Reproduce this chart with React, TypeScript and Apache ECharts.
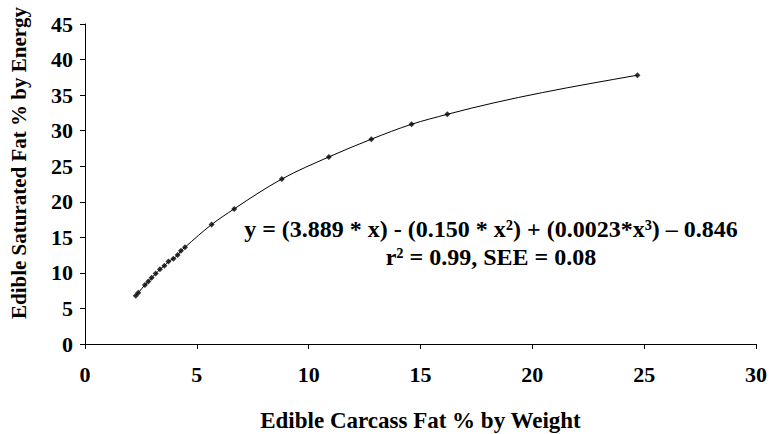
import React, { useEffect, useRef } from "react";
import * as echarts from "echarts";

const carcassFat = [2.27, 2.38, 2.68, 2.83, 2.98, 3.16, 3.35, 3.55, 3.73, 3.95, 4.14, 4.29, 4.47, 5.66, 6.67, 8.8, 10.9, 12.8, 14.6, 16.2, 24.7];
const satFat = [6.8, 7.2, 8.3, 8.8, 9.3, 9.9, 10.5, 11.0, 11.6, 12.0, 12.5, 13.1, 13.6, 16.8, 19.0, 23.2, 26.3, 28.8, 30.9, 32.3, 37.8];
const xTicks = [0, 5, 10, 15, 20, 25, 30];
const yTicks = [0, 5, 10, 15, 20, 25, 30, 35, 40, 45];
const equationLine = "y = (3.889 * x) - (0.150 * x²) + (0.0023*x³) – 0.846";
const statsLine = "r² = 0.99, SEE = 0.08";
const xName = "Edible Carcass Fat % by Weight";
const yName = "Edible Saturated Fat % by Energy";

const FONT = "'Liberation Serif', 'Times New Roman', serif";

// tangents (three-point, non-uniform) for a smooth curve through the data points
function tangents(xs: number[], ys: number[]): number[] {
  const n = xs.length;
  const s: number[] = [];
  for (let i = 0; i < n - 1; i++) s.push((ys[i + 1] - ys[i]) / (xs[i + 1] - xs[i]));
  const m: number[] = new Array(n).fill(0);
  for (let i = 1; i < n - 1; i++) {
    const h0 = xs[i] - xs[i - 1];
    const h1 = xs[i + 1] - xs[i];
    m[i] = (h1 * s[i - 1] + h0 * s[i]) / (h0 + h1);
  }
  m[0] = (3 * s[0] - m[1]) / 2;
  m[n - 1] = (3 * s[n - 2] - m[n - 2]) / 2;
  return m;
}

export default function App() {
  const ref = useRef<HTMLDivElement>(null);
  useEffect(() => {
    if (!ref.current) return;
    const chart = echarts.init(ref.current, undefined, { renderer: "svg" });
    const pts = carcassFat.map((x, i) => [x, satFat[i]]);
    const slopes = tangents(carcassFat, satFat);
    chart.setOption({
      animation: false,
      backgroundColor: "#ffffff",
      grid: { left: 85, right: 15, top: 24, bottom: 90, containLabel: false, outerBoundsMode: "none" },
      xAxis: {
        type: "value",
        min: xTicks[0],
        max: xTicks[xTicks.length - 1],
        interval: 5,
        name: xName,
        nameLocation: "middle",
        nameGap: 65,
        nameTextStyle: { fontFamily: FONT, fontWeight: "bold", fontSize: 23, color: "#000" },
        axisLine: { show: true, lineStyle: { color: "#000", width: 1 } },
        axisTick: { show: true, inside: false, length: 5, lineStyle: { color: "#000" } },
        axisLabel: { fontFamily: FONT, fontWeight: "bold", fontSize: 22, color: "#000", margin: 19 },
        splitLine: { show: false },
      },
      yAxis: {
        type: "value",
        min: yTicks[0],
        max: yTicks[yTicks.length - 1],
        interval: 5,
        axisLine: { show: true, lineStyle: { color: "#000", width: 1 } },
        axisTick: { show: true, inside: false, length: 5, lineStyle: { color: "#000" } },
        axisLabel: { fontFamily: FONT, fontWeight: "bold", fontSize: 22, color: "#000", margin: 12 },
        splitLine: { show: false },
      },
      graphic: [
        {
          type: "text",
          x: 19,
          y: 163,
          rotation: Math.PI / 2,
          style: {
            text: yName,
            fontFamily: FONT,
            fontWeight: "bold",
            fontSize: 21,
            fill: "#000",
            textAlign: "center",
            textVerticalAlign: "middle",
          },
        },
        {
          type: "text",
          x: 491,
          y: 229,
          style: {
            text: equationLine,
            fontFamily: FONT,
            fontWeight: "bold",
            fontSize: 24,
            fill: "#000",
            textAlign: "center",
            textVerticalAlign: "middle",
          },
        },
        {
          type: "text",
          x: 491,
          y: 257,
          style: {
            text: statsLine,
            fontFamily: FONT,
            fontWeight: "bold",
            fontSize: 24,
            fill: "#000",
            textAlign: "center",
            textVerticalAlign: "middle",
          },
        },
      ],
      series: [
        {
          type: "custom",
          data: pts,
          encode: { x: 0, y: 1 },
          z: 2,
          silent: true,
          renderItem: (params: any, api: any) => {
            if (params.dataIndex !== 0) return null;
            const n = carcassFat.length;
            const p0 = api.coord([carcassFat[0], satFat[0]]);
            let d = `M${p0[0]} ${p0[1]}`;
            for (let i = 0; i < n - 1; i++) {
              const h = carcassFat[i + 1] - carcassFat[i];
              const c1 = api.coord([carcassFat[i] + h / 3, satFat[i] + (slopes[i] * h) / 3]);
              const c2 = api.coord([carcassFat[i + 1] - h / 3, satFat[i + 1] - (slopes[i + 1] * h) / 3]);
              const p = api.coord([carcassFat[i + 1], satFat[i + 1]]);
              d += ` C${c1[0]} ${c1[1]} ${c2[0]} ${c2[1]} ${p[0]} ${p[1]}`;
            }
            return {
              type: "path",
              shape: { pathData: d },
              style: { fill: "none", stroke: "#000", lineWidth: 1 },
            };
          },
        },
        {
          type: "scatter",
          data: pts,
          symbol: "diamond",
          symbolSize: 6,
          itemStyle: { color: "#000" },
          z: 3,
        },
      ],
    });
    return () => chart.dispose();
  }, []);
  return <div ref={ref} style={{ width: 771, height: 434, position: "absolute", left: 0, top: 0 }} />;
}
